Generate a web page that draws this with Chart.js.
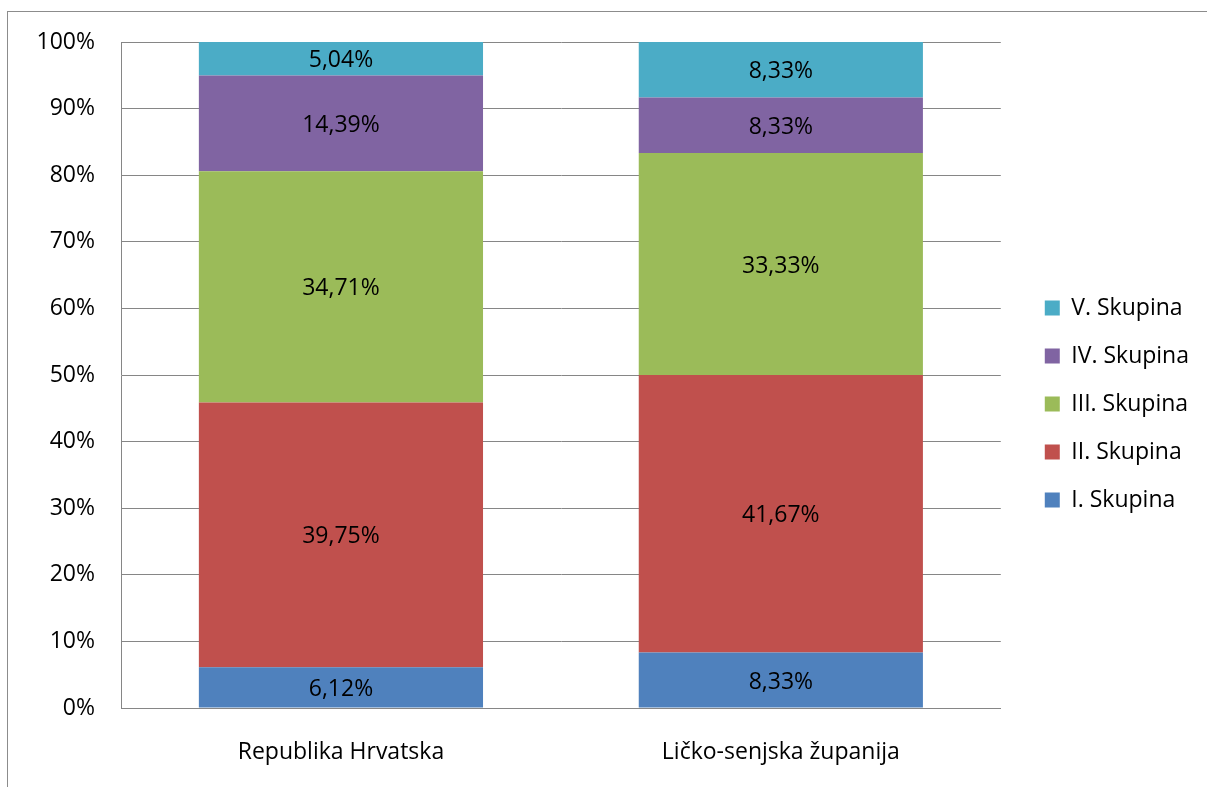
<!DOCTYPE html>
<html>
<head>
<meta charset="utf-8">
<script src="https://cdn.jsdelivr.net/npm/chart.js@4/dist/chart.umd.min.js"></script>
<style>
  html, body { margin: 0; padding: 0; background: #fff; overflow: hidden; }
  #frame { position: absolute; left: 7px; top: 11px; width: 1300px; height: 900px; border: 1px solid #8c8c8c; }
  #chart { position: absolute; left: 0; top: 0; }
</style>
</head>
<body>
<div id="frame"></div>
<canvas id="chart" width="1207" height="787"></canvas>
<script>
// categories and shares (%) per group
const categories = ['Republika Hrvatska', 'Ličko-senjska županija'];
const groupI = [6.12, 8.33];
const groupII = [39.75, 41.67];
const groupIII = [34.71, 33.33];
const groupIV = [14.39, 8.33];
const groupV = [5.04, 8.33];
const yTicks = [0, 10, 20, 30, 40, 50, 60, 70, 80, 90, 100];

const FONT = 'Open Sans';
const GRID = '#868686';

// draws the value in the middle of every bar segment
const segmentLabels = {
  id: 'segmentLabels',
  afterDatasetsDraw(chart) {
    const ctx = chart.ctx;
    ctx.save();
    ctx.font = '23px "' + FONT + '"';
    ctx.fillStyle = '#000';
    ctx.textAlign = 'center';
    ctx.textBaseline = 'middle';
    chart.data.datasets.forEach((ds, i) => {
      const meta = chart.getDatasetMeta(i);
      meta.data.forEach((bar, j) => {
        const txt = ds.data[j].toFixed(2).replace('.', ',') + '%';
        ctx.fillText(txt, bar.x, (bar.y + bar.base) / 2 + 2);
      });
    });
    ctx.restore();
  }
};

// push the legend a bit away from the plot area
const legendShift = {
  id: 'legendShift',
  afterLayout(chart) {
    chart.legend.left += 19;
    chart.legend.right += 19;
  }
};

new Chart(document.getElementById('chart'), {
  type: 'bar',
  data: {
    labels: categories,
    datasets: [
      { label: 'I. Skupina', data: groupI, backgroundColor: '#4F81BD' },
      { label: 'II. Skupina', data: groupII, backgroundColor: '#C0504D' },
      { label: 'III. Skupina', data: groupIII, backgroundColor: '#9BBB59' },
      { label: 'IV. Skupina', data: groupIV, backgroundColor: '#8064A2' },
      { label: 'V. Skupina', data: groupV, backgroundColor: '#4BACC6' }
    ]
  },
  options: {
    responsive: false,
    animation: false,
    barPercentage: 0.646,
    categoryPercentage: 1,
    layout: { padding: { top: 42, bottom: 21, left: 0, right: 27 } },
    plugins: {
      legend: {
        position: 'right',
        reverse: true,
        labels: {
          boxWidth: 15,
          boxHeight: 15,
          padding: 25,
          color: '#000',
          font: { family: FONT, size: 23 }
        }
      },
      tooltip: { enabled: false }
    },
    scales: {
      x: {
        stacked: true,
        grid: { display: false, drawTicks: false },
        border: { color: GRID },
        ticks: { color: '#000', padding: 31, font: { family: FONT, size: 23 } },
        afterFit(s) { s.height = 58; }
      },
      y: {
        stacked: true,
        min: 0,
        max: 100,
        afterBuildTicks(s) { s.ticks = yTicks.map(v => ({ value: v })); },
        grid: { color: GRID, drawTicks: false },
        border: { color: GRID },
        ticks: {
          color: '#000',
          padding: 26,
          font: { family: FONT, size: 23 },
          callback: v => v + '%'
        },
        afterFit(s) {
          s.width = 121;
          s.paddingTop = 0;
          s.paddingBottom = 0;
        }
      }
    }
  },
  plugins: [segmentLabels, legendShift]
});
</script>
</body>
</html>
